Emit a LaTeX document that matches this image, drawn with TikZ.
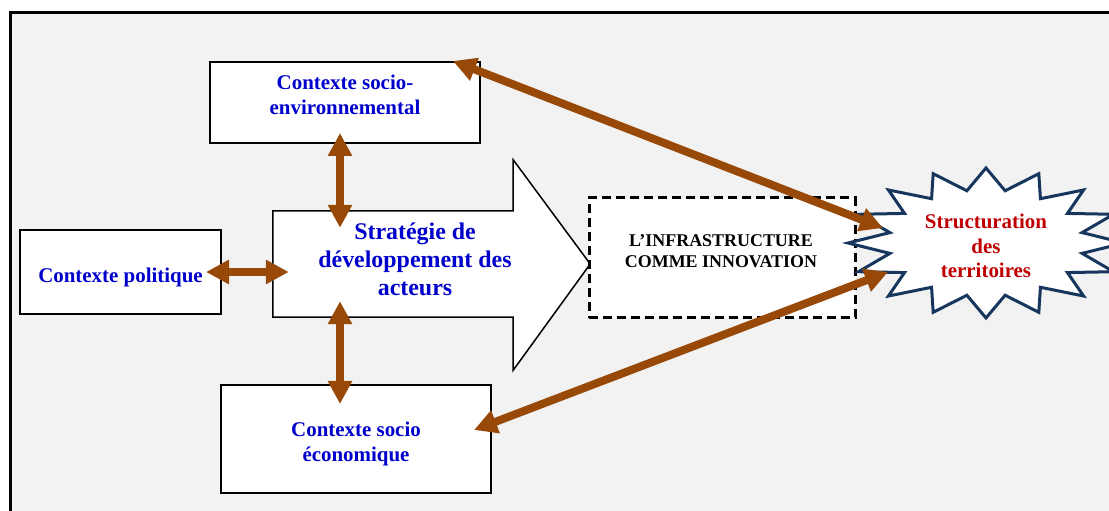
\documentclass[tikz,border=0pt]{standalone}
\usepackage{fontspec}
\setmainfont{Liberation Serif}
\usetikzlibrary{arrows.meta,positioning}
\definecolor{brun}{HTML}{984807}
\definecolor{bleu}{HTML}{0000CC}
\definecolor{rouge}{HTML}{C00000}
\definecolor{marine}{HTML}{17365D}
\definecolor{fond}{HTML}{F2F2F2}
\begin{document}
\begin{tikzpicture}[x=1bp, y=-1bp,
  boite/.style={draw, line width=2bp, fill=white},
  texte/.style={align=center, text=bleu, font=\bfseries\fontsize{21}{25}\selectfont},
  liaison/.style={color=brun, line width=8bp,
    {Triangle[width=23bp,length=23bp]}-{Triangle[width=23bp,length=23bp]}},
  etoile/.style={draw=marine, line width=3bp, fill=white, line join=miter}]

  \useasboundingbox (0,0) rectangle (1109,511);
  \clip (0,0) rectangle (1109,511);
  \draw[line width=3.5bp, fill=fond] (10.7,12.5) rectangle (1140,540);

  \node[boite, minimum width=270bp, minimum height=81bp] (socioenv) at (345,102.5) {};
  \node[texte] (socioenvtexte) at ([shift={(0,-8)}]socioenv.center)
    {Contexte socio-\\environnemental};
  \node[boite, minimum width=201bp, minimum height=84bp] (politique) at (120.5,272) {};
  \node[texte] (politiquetexte) at ([shift={(0,5)}]politique.center) {Contexte politique};
  \node[boite, minimum width=270bp, minimum height=108bp] (socioeco) at (356,439) {};
  \node[texte] (socioecotexte) at ([shift={(0,5)}]socioeco.center)
    {Contexte socio\\économique};

  \node[minimum width=240bp, minimum height=106bp, inner sep=0pt] (strategie) at (393,264) {};
  \draw[line width=1.5bp, fill=white] (strategie.north west) -- (strategie.north east)
    -- ([shift={(0,-51)}]strategie.north east) -- ([shift={(77,0)}]strategie.east)
    -- ([shift={(0,53)}]strategie.south east) -- (strategie.south east)
    -- (strategie.south west) -- cycle;
  \node[texte, font=\bfseries\fontsize{24}{28}\selectfont] (strategietexte)
    at ([shift={(22,-5)}]strategie.center) {Stratégie de\\développement des\\acteurs};

  \node[boite, line width=3bp, dash pattern=on 9bp off 5bp,
    minimum width=266bp, minimum height=120bp] (infra) at (722,258) {};
  \node[align=center, font=\bfseries\fontsize{18}{21}\selectfont] (infratexte)
    at ([shift={(-1,-7)}]infra.center) {L’INFRASTRUCTURE\\COMME INNOVATION};

  \draw[etoile] ({986+138*cos(-90)},{243+75*sin(-90)})
    \foreach \i [evaluate=\i as \r using {1-0.29*mod(\i,2)}] in {1,...,31}
      { -- ({986+\r*138*cos(-90+11.25*\i)},{243+\r*75*sin(-90+11.25*\i)}) } -- cycle;
  \node[texte, text=rouge, font=\bfseries\fontsize{21}{24.5}\selectfont]
    (structuration) at (986,246) {Structuration\\des\\territoires};

  \draw[liaison] ([shift={(-5,-11)}]socioenv.south) -- ([shift={(-53,17)}]strategie.north);
  \draw[liaison] ([shift={(-16,0)}]politique.east) -- ([shift={(16,8)}]strategie.west);
  \draw[liaison] ([shift={(-53,-16)}]strategie.south) -- ([shift={(-16,20)}]socioeco.north);
  \draw[liaison] ([shift={(-28,0)}]socioenv.north east) -- ([shift={(-103,-18)}]structuration.center);
  \draw[liaison] ([shift={(-18,-9)}]socioeco.east) -- ([shift={(-98,26)}]structuration.center);
\end{tikzpicture}
\end{document}
